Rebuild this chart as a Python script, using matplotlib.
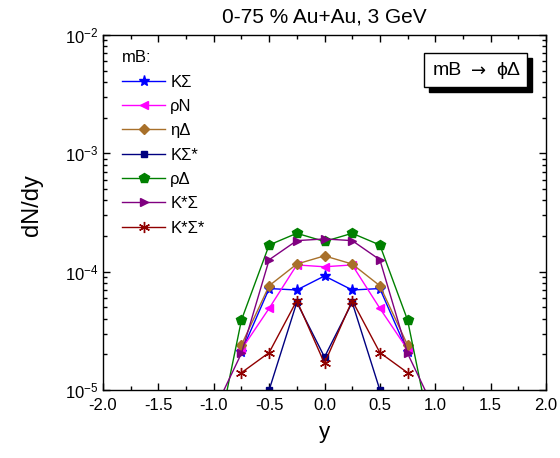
import matplotlib
matplotlib.use("Agg")
import matplotlib.pyplot as plt
from matplotlib.patches import Rectangle
from matplotlib.ticker import FixedLocator, LogLocator, NullFormatter
import numpy as np

plt.rcParams['font.family'] = ['Liberation Sans', 'DejaVu Sans']

# rapidity bins
y_wide = [-1.0, -0.75, -0.5, -0.25, 0.0, 0.25, 0.5, 0.75, 1.0]
y_mid = [-0.75, -0.5, -0.25, 0.0, 0.25, 0.5, 0.75]
y_narrow = [-0.5, -0.25, 0.0, 0.25, 0.5]

# dN/dy for each channel mB -> phi Delta
k_sigma = [2.1e-5, 7.2e-5, 7.0e-5, 9.2e-5, 7.0e-5, 7.2e-5, 2.1e-5]
rho_n = [2.2e-5, 4.9e-5, 1.14e-4, 1.1e-4, 1.14e-4, 4.9e-5, 2.2e-5]
eta_delta = [2.4e-5, 7.6e-5, 1.16e-4, 1.36e-4, 1.16e-4, 7.6e-5, 2.4e-5]
k_sigmastar = [1.0e-5, 5.5e-5, 1.9e-5, 5.5e-5, 1.0e-5]
rho_delta = [2.8e-6, 3.9e-5, 1.68e-4, 2.11e-4, 1.8e-4, 2.11e-4, 1.68e-4, 3.9e-5, 2.8e-6]
kstar_sigma = [6.6e-6, 2.04e-5, 1.26e-4, 1.83e-4, 1.89e-4, 1.83e-4, 1.26e-4, 2.04e-5, 6.6e-6]
kstar_sigmastar = [1.4e-5, 2.07e-5, 5.7e-5, 1.68e-5, 5.7e-5, 2.07e-5, 1.4e-5]

fig = plt.figure(figsize=(5.6, 4.58), dpi=100)
ax = fig.add_axes([103/560, 1 - 390/458, 443/560, 355/458])

ms = 6
ax.plot(y_mid, k_sigma, '-', color='#0000ff', marker='*', ms=ms + 2, lw=1, label='KΣ')
ax.plot(y_mid, rho_n, '-', color='#ff00ff', marker='<', ms=ms, lw=1, label='ρN')
ax.plot(y_mid, eta_delta, '-', color='#a8702a', marker='D', ms=ms - 1, lw=1, label='ηΔ')
ax.plot(y_narrow, k_sigmastar, '-', color='#000080', marker='s', ms=ms - 1, lw=1, label='KΣ*')
ax.plot(y_wide, rho_delta, '-', color='#008000', marker='p', ms=ms + 1, lw=1, label='ρΔ')
ax.plot(y_wide, kstar_sigma, '-', color='#800080', marker='>', ms=ms, lw=1, label='K*Σ')
ax.plot(y_mid, kstar_sigmastar, '-', color='#900000', marker=(6, 2, 0), ms=ms + 2, lw=1,
        mew=1, label='K*Σ*')

ax.set_yscale('log')
ax.set_xlim(-2, 2)
ax.set_ylim(1e-5, 1e-2)

ax.xaxis.set_major_locator(FixedLocator(np.arange(-2, 2.01, 0.5)))
ax.xaxis.set_minor_locator(FixedLocator(np.arange(-1.75, 2, 0.5)))
ax.set_xticklabels([f'{v:.1f}' for v in np.arange(-2, 2.01, 0.5)])
ax.yaxis.set_major_locator(LogLocator(base=10, numticks=10))
ax.yaxis.set_minor_locator(LogLocator(base=10, subs=np.arange(2, 10), numticks=20))
ax.yaxis.set_minor_formatter(NullFormatter())

ax.tick_params(which='both', direction='in', top=True, right=True, labelsize=12, width=1)
ax.tick_params(which='major', length=5)
ax.tick_params(axis='x', pad=6)
ax.tick_params(which='minor', length=3)
for s in ax.spines.values():
    s.set_linewidth(1)

ax.set_xlabel('y', fontsize=16, labelpad=6)
ax.set_ylabel('dN/dy', fontsize=17)
ax.yaxis.set_label_coords(-0.135, 0.52)
ax.set_title('0-75 % Au+Au, 3 GeV', fontsize=15, pad=9)

leg = ax.legend(loc='upper left', bbox_to_anchor=(0.02, 0.985), frameon=False, title='mB:',
                fontsize=12, title_fontsize=12, handlelength=2.6, labelspacing=0.56,
                handletextpad=0.3, borderaxespad=0.2, alignment='left')

# channel label with drop shadow
ax.add_patch(Rectangle((0.737, 0.840), 0.232, 0.096, transform=ax.transAxes,
                       facecolor='black', edgecolor='black', zorder=5))
ax.add_patch(Rectangle((0.725, 0.854), 0.232, 0.096, transform=ax.transAxes,
                       facecolor='white', edgecolor='black', lw=1, zorder=6))
ax.text(0.810, 0.900, 'mB', transform=ax.transAxes, ha='right', va='center',
        fontsize=14, zorder=7)
ax.text(0.847, 0.900, '→', transform=ax.transAxes, ha='center', va='center',
        fontsize=13, family='DejaVu Sans', zorder=7)
ax.text(0.887, 0.900, 'ϕΔ', transform=ax.transAxes, ha='left', va='center',
        fontsize=14, family=['Liberation Sans', 'DejaVu Sans'], zorder=7)

fig.savefig('out.png', dpi=100)
